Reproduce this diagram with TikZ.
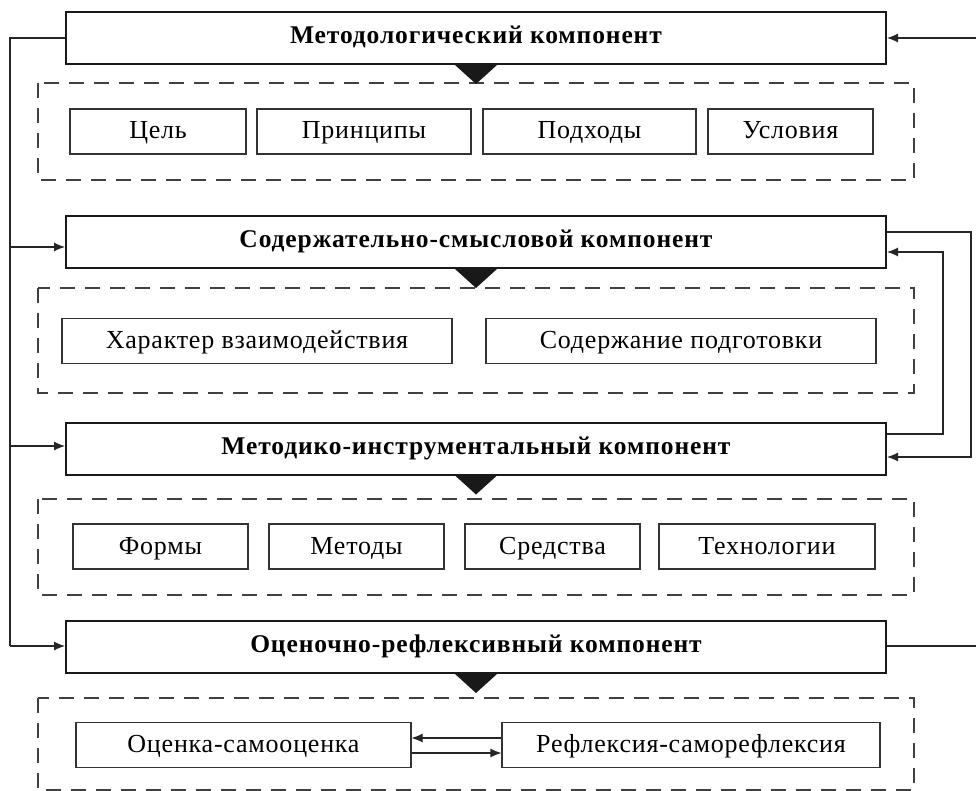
\documentclass[tikz,border=0pt]{standalone}
\usepackage{fontspec}
\setmainfont{Liberation Serif}
\usetikzlibrary{calc,arrows.meta}

\begin{document}
\begin{tikzpicture}[x=1pt,y=-1pt,
    komp/.style={draw=black!90,line width=2pt,minimum width=820pt,minimum height=52pt,inner sep=0pt,text height=15pt,text depth=4pt,font=\fontsize{25.5}{28}\selectfont\bfseries\addfontfeature{LetterSpace=3.5}},
    elem/.style={draw=black!80,line width=1.1pt,minimum height=45pt,inner sep=0pt,text height=18pt,text depth=3pt,font=\fontsize{26}{29}\selectfont\addfontfeature{LetterSpace=3}},
    gruppe/.style={draw=black!75,line width=1.1pt,dash pattern=on 15pt off 10pt},
    linie/.style={draw=black!85,line width=1.1pt},
    pfeil/.style={linie,-{Latex[length=11pt,width=9pt]}},
    keil/.style={fill=black!90}]
  \useasboundingbox (0,0) rectangle (976,791);

  % Komponenten
  \node[komp] (m1) at (476,38) {Методологический компонент};
  \node[komp] (m2) at (476,242) {Содержательно-смысловой компонент};
  \node[komp] (m3) at (476,448.5) {Методико-инструментальный компонент};
  \node[komp] (m4) at (476,647) {Оценочно-рефлексивный компонент};

  % Gruppen
  \draw[gruppe] (38,83) rectangle (914,180);
  \draw[gruppe] (38,288) rectangle (914,393);
  \draw[gruppe] (38,499) rectangle (914,595);
  \draw[gruppe] (38,698) rectangle (914,790);

  \foreach \k in {m1,m2,m3,m4}
    \fill[keil] ($(\k.south)+(-21,0)$) -- ($(\k.south)+(21,0)$) -- ($(\k.south)+(0,19)$) -- cycle;

  % Elemente
  \node[elem,minimum width=176pt] (ziel) at (158,131.5) {Цель};
  \node[elem,minimum width=214pt] (prinz) at (364,131.5) {Принципы};
  \node[elem,minimum width=213pt] (podch) at (589.5,131.5) {Подходы};
  \node[elem,minimum width=165pt] (usl) at (790.5,131.5) {Условия};

  \node[elem,minimum width=390pt] (charakt) at (257,341) {Характер взаимодействия};
  \node[elem,minimum width=390pt] (inhalt) at (681,341) {Содержание подготовки};

  \node[elem,minimum width=175pt] (formen) at (160.5,546.5) {Формы};
  \node[elem,minimum width=175pt] (method) at (356.5,546.5) {Методы};
  \node[elem,minimum width=175pt] (mittel) at (552.5,546.5) {Средства};
  \node[elem,minimum width=216pt] (techn) at (767,546.5) {Технологии};

  \node[elem,minimum width=335pt] (bewert) at (243.5,745) {Оценка-самооценка};
  \node[elem,minimum width=378pt] (reflex) at (691,745) {Рефлексия-саморефлексия};

  % Rueckkopplung links
  \coordinate (l1) at (10,38);
  \coordinate (l4) at (10,646);
  \draw[linie] (m1.west) -- (l1) -- (l4);
  \draw[pfeil] (l4) -- (m4.west |- l4);
  \draw[pfeil] (10,247) -- (m2.west |- 0,247);
  \draw[pfeil] (10,446) -- (m3.west |- 0,446);

  % Rueckkopplung rechts
  \coordinate (r1) at (978,38);
  \coordinate (r4) at (978,646);
  \draw[linie] (m4.east |- r4) -- (r4) -- (r1);
  \draw[pfeil] (r1) -- (m1.east);
  \draw[pfeil] (m2.east |- 0,232) -- (971,232) -- (971,457) -- (m3.east |- 0,457);
  \draw[pfeil] (m3.east |- 0,434) -- (943,434) -- (943,252) -- (m2.east |- 0,252);

  % Wechselwirkung
  \draw[pfeil] (reflex.west |- 0,738) -- (bewert.east |- 0,738);
  \draw[pfeil] (bewert.east |- 0,753) -- (reflex.west |- 0,753);
\end{tikzpicture}
\end{document}
